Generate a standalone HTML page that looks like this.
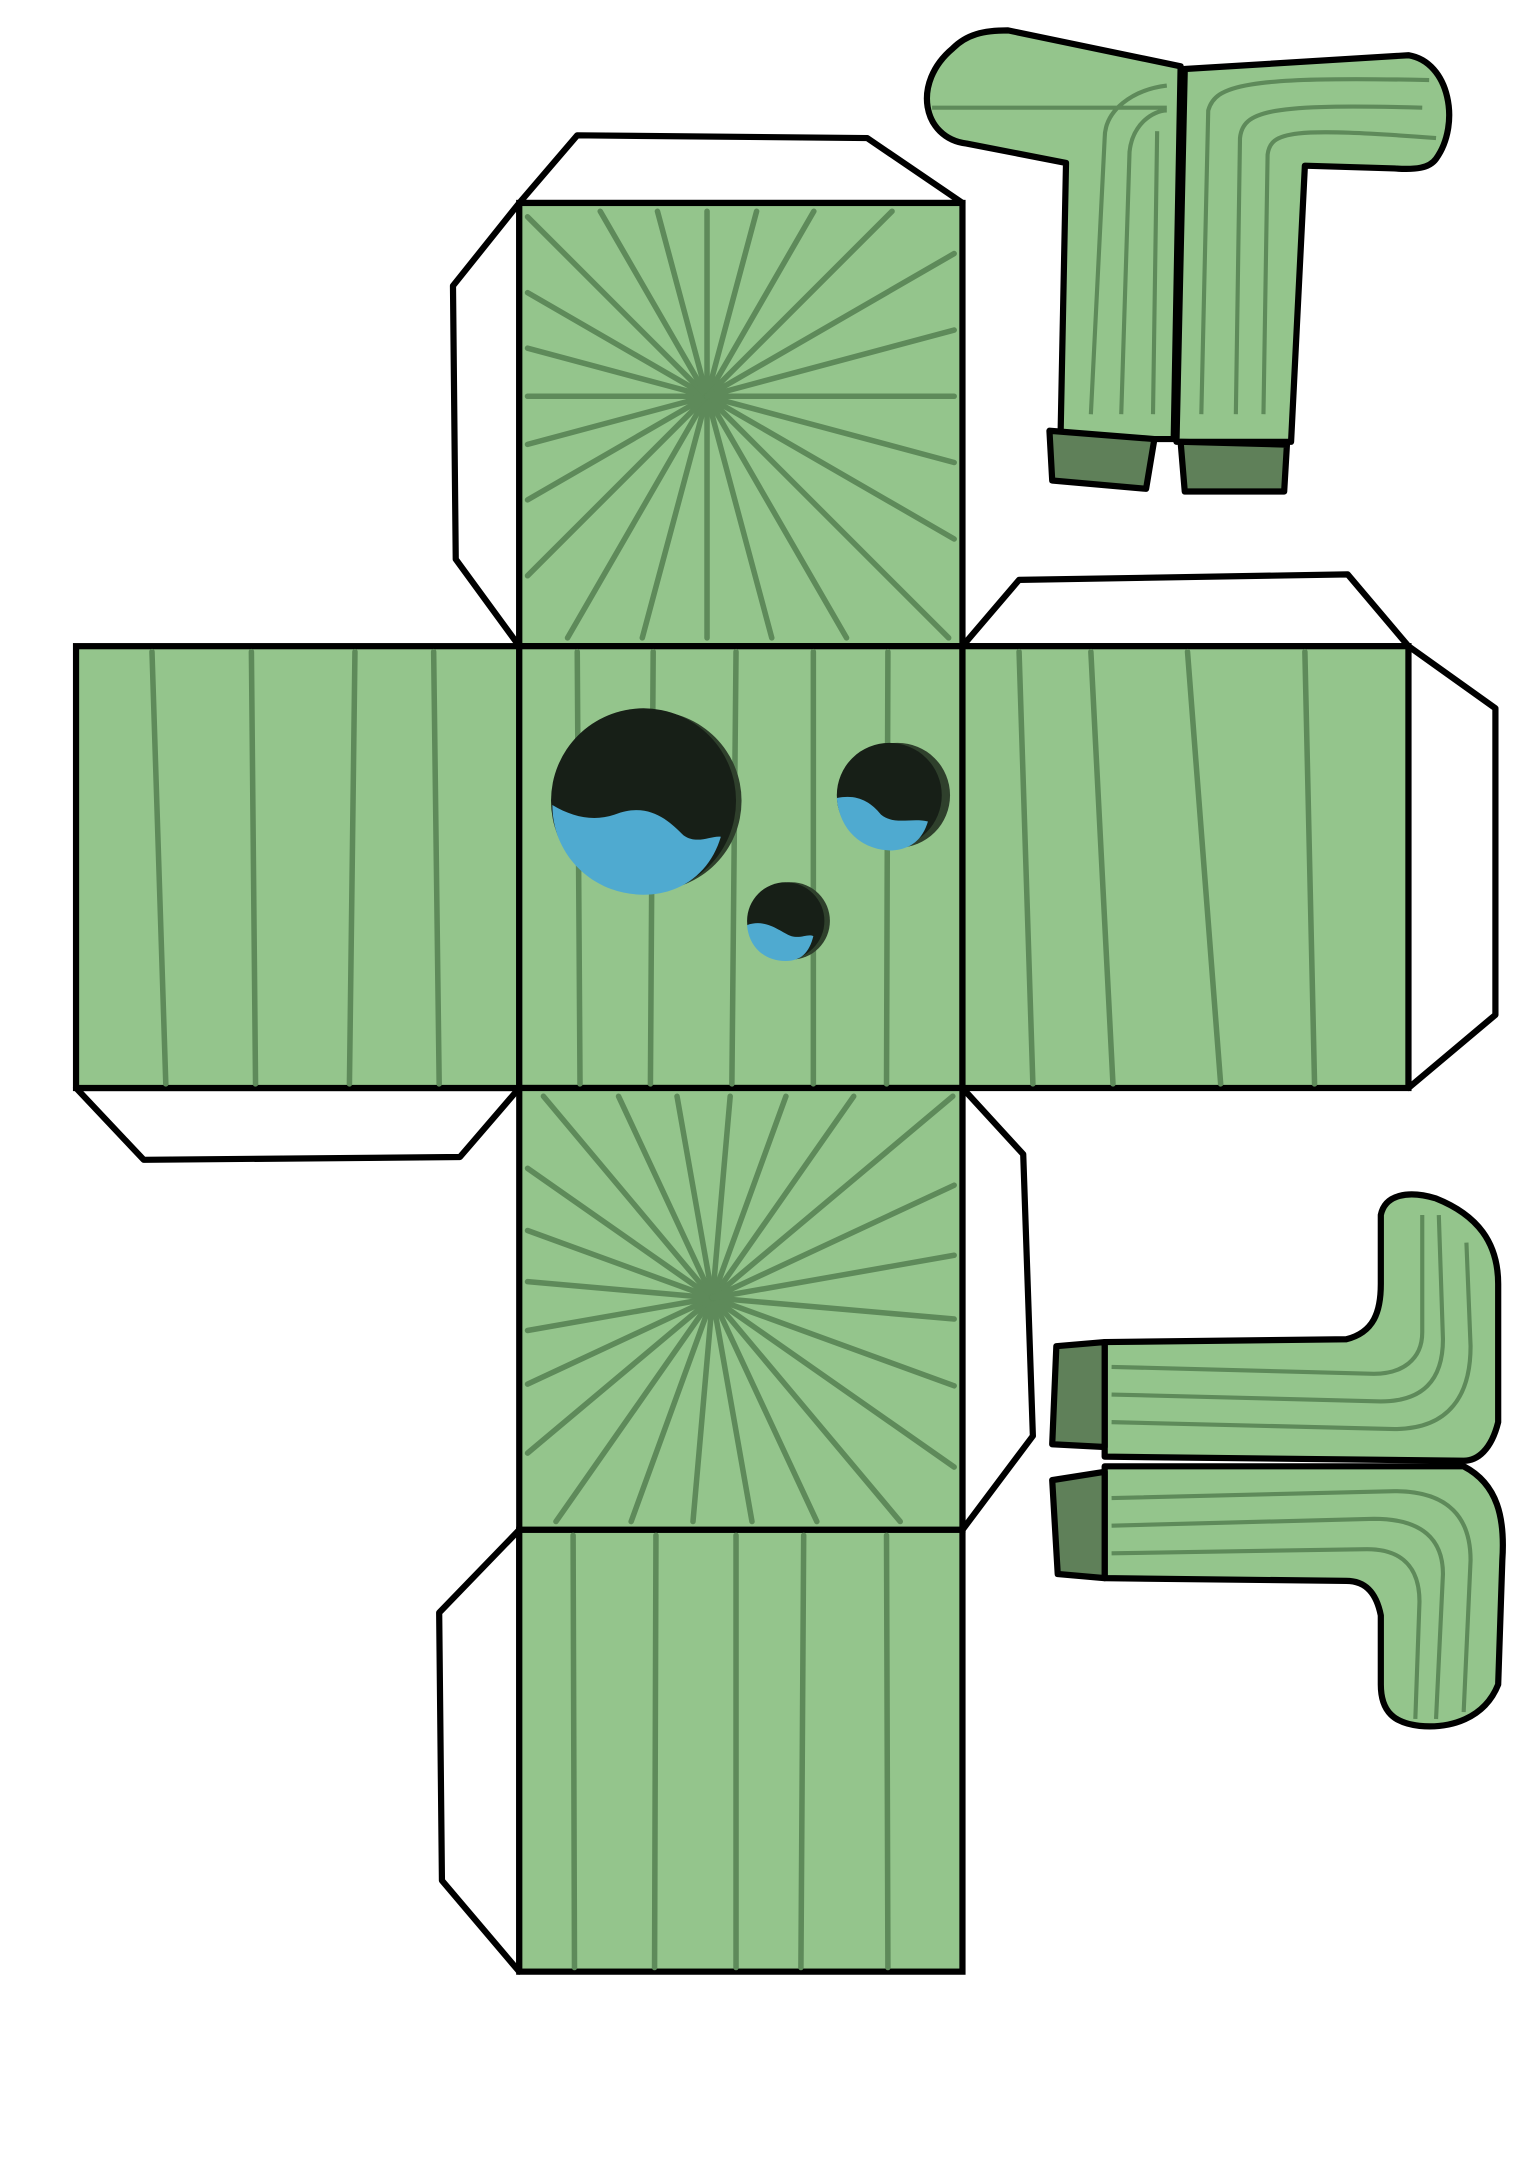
<!DOCTYPE html>
<html><head><meta charset="utf-8"><style>
html,body{margin:0;padding:0;background:#fff;width:1519px;height:2176px;overflow:hidden}
svg{display:block}
</style></head><body>
<svg id="s" width="1519" height="2176" viewBox="0 0 1100 1576" xmlns="http://www.w3.org/2000/svg">
<g fill="#fff" stroke="#000" stroke-width="4.5" stroke-linejoin="round">
<polygon points="376,147 418,98 628,100 697,147"/>
<polygon points="376,147 328,207 330,405 376,468"/>
<polygon points="697,468 738,420 976,416 1020,468"/>
<polygon points="1020,468 1083,513 1083,735 1020,788"/>
<polygon points="55,788 104,840 333,838 376,788"/>
<polygon points="697,788 741,836 748,1040 697,1108"/>
<polygon points="376,1108 318,1168 320,1362 376,1428"/>
</g>
<g id="faces" fill="#94c58c" stroke="#000" stroke-width="4.5">
<rect x="376" y="147" width="321" height="321"/>
<rect x="55" y="468" width="321" height="320"/>
<rect x="376" y="468" width="321" height="320"/>
<rect x="697" y="468" width="323" height="320"/>
<rect x="376" y="788" width="321" height="320"/>
<rect x="376" y="1108" width="321" height="320"/>
</g>
<g id="lines" stroke="#5e8a5a" stroke-width="4" fill="none" stroke-linecap="round">
<path d="M110 472L120 785M182 472L185 785M257 472L253 785M314 472L318 785"/>
<path d="M418 472L420 785M473 472L471 785M533 472L530 785M589 472L589 785M643 472L642 785"/>
<path d="M738 472L748 785M790 472L806 785M860 472L884 785M945 472L952 785"/>
<path d="M415 1112L416 1425M475 1112L474 1425M533 1112L533 1425M582 1112L580 1425M642 1112L643 1425"/>
</g>
<g id="rad" stroke="#5e8a5a" stroke-width="4" stroke-linecap="round"></g>
<g>
<circle cx="472" cy="580" r="65" fill="#2f402c"/>
<circle cx="466" cy="580" r="67" fill="#171f17"/>
<path fill="#4faad0" d="M400 583 C415 592 430 595 445 590 C470 580 485 595 495 605 C505 612 515 605 522 606 C515 630 495 648 466 648 C430 648 400 620 400 583Z"/>
<circle cx="650" cy="576" r="38" fill="#2f402c"/>
<circle cx="644" cy="576" r="38" fill="#171f17"/>
<path fill="#4faad0" d="M606 578 C620 575 630 580 638 590 C648 598 660 592 672 595 C668 608 660 615 646 616 C625 616 608 602 606 578Z"/>
<circle cx="573" cy="667" r="28" fill="#2f402c"/>
<circle cx="569" cy="667" r="28" fill="#171f17"/>
<path fill="#4faad0" d="M541 670 C555 665 565 675 573 678 C580 680 585 676 589 678 C586 690 580 696 569 696 C552 696 542 684 541 670Z"/>
</g>
<g fill="#94c58c" stroke="#000" stroke-width="4.5" stroke-linejoin="round">
<path d="M855 48 L850 318 L768 318 L772 118 L700 104 C668 100 660 60 690 35 C700 25 712 22 730 22 Z"/>
<path d="M858 50 L1020 40 C1050 45 1058 90 1040 115 C1035 122 1025 123 1010 122 L945 120 L935 320 L852 320 Z"/>
<path d="M800 972 L975 970 C995 965 1000 950 1000 930 L1000 880 C1003 865 1020 862 1040 868 C1070 880 1085 900 1085 930 L1085 1030 C1080 1050 1070 1058 1060 1058 L800 1055 Z"/>
<path d="M800 1062 L1060 1062 C1085 1075 1090 1100 1088 1130 L1085 1220 C1075 1245 1050 1252 1028 1250 C1010 1248 1000 1240 1000 1220 L1000 1170 C997 1155 990 1145 975 1145 L800 1143 Z"/>
</g>
<g fill="#5f8059" stroke="#000" stroke-width="4.5" stroke-linejoin="round">
<polygon points="760,312 836,318 830,354 762,348"/>
<polygon points="855,320 932,322 930,356 858,356"/>
<polygon points="765,975 800,972 800,1048 762,1046"/>
<polygon points="762,1072 800,1066 800,1143 766,1140"/>
</g>
<g stroke="#5e8a5a" stroke-width="3" fill="none">
<path d="M675 78 L845 78 M790 300 L800 100 C800 80 820 65 845 62 M812 300 L818 110 C820 90 835 80 845 80 M835 300 L838 95"/>
<path d="M870 300 L875 80 C880 62 900 55 1035 58 M895 300 L898 100 C900 80 920 75 1030 78 M915 300 L918 112 C920 95 935 92 1040 100"/>
<path d="M805 990 L995 995 C1015 995 1030 985 1030 965 L1030 880 M805 1010 L1000 1015 C1030 1015 1045 1000 1045 970 L1042 880 M805 1030 L1010 1035 C1050 1035 1065 1010 1065 975 L1062 900"/>
<path d="M805 1085 L1010 1080 C1050 1080 1065 1100 1065 1130 L1060 1240 M805 1105 L995 1100 C1030 1100 1045 1115 1045 1140 L1040 1245 M805 1125 L990 1122 C1015 1122 1028 1135 1028 1160 L1025 1245"/>
</g>
</svg>
<script>
const topFaceAngles=[0,15,30,45,60,75,90,105,120,135,150,165,180,195,210,225,240,255,270,285,300,315,330,345];
const bottomFaceAngles=[5,20,35,50,65,80,95,110,125,140,155,170,185,200,215,230,245,260,275,290,305,320,335,350];
const g=document.getElementById('rad');
function rays(cx,cy,x0,y0,x1,y1,angles,prefix){
  angles.forEach(function(a,i){
    const r=a*Math.PI/180,dx=Math.cos(r),dy=Math.sin(r);
    let t=1e9;
    if(dx>0)t=Math.min(t,(x1-cx)/dx); if(dx<0)t=Math.min(t,(x0-cx)/dx);
    if(dy>0)t=Math.min(t,(y1-cy)/dy); if(dy<0)t=Math.min(t,(y0-cy)/dy);
    const l=document.createElementNS('http://www.w3.org/2000/svg','line');
    l.setAttribute('x1',cx);l.setAttribute('y1',cy);
    l.setAttribute('x2',cx+dx*t);l.setAttribute('y2',cy+dy*t);
    
    
    g.appendChild(l);
  });
}
rays(512,287,382,153,691,462,topFaceAngles,'top-face');
rays(516,940,382,794,691,1102,bottomFaceAngles,'bottom-face');
</script>
</body></html>
